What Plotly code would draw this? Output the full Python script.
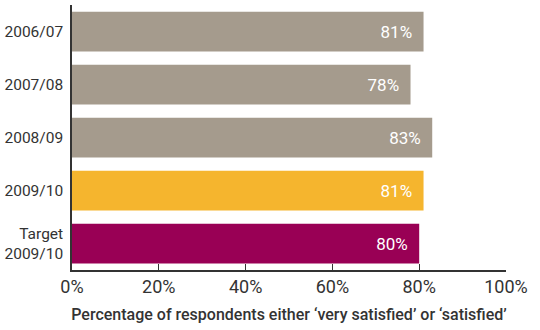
import plotly.graph_objects as go

categories = ["2006/07", "2007/08", "2008/09", "2009/10", "Target<br>2009/10"]
values = [81, 78, 83, 81, 80]
colors = ["#A59B8D", "#A59B8D", "#A59B8D", "#F5B52E", "#990055"]
labels = [f"{v}%\u00a0\u00a0" for v in values]
tick_vals = [0, 20, 40, 60, 80, 100]
tick_text = ["0%", "20%", "40%", "60%", "80%", "100%"]

font_fam = "Roboto, Liberation Sans, Arial, sans-serif"

fig = go.Figure(go.Bar(
    y=categories, x=values, orientation="h",
    marker=dict(color=colors, line=dict(width=0)),
    text=labels, textposition="inside", insidetextanchor="end",
    textfont=dict(color="white", size=17, family=font_fam),
    cliponaxis=False,
))

fig.update_layout(
    width=540, height=330,
    margin=dict(l=72, r=34, t=5, b=60),
    plot_bgcolor="white", paper_bgcolor="white",
    bargap=0.25,
    showlegend=False,
    font=dict(family=font_fam, color="#333333", size=17),
    uniformtext=dict(minsize=10, mode="show"),
)
fig.update_xaxes(
    range=[0, 100], tickvals=tick_vals, ticktext=tick_text,
    showgrid=False, zeroline=False, automargin=False,
    showline=True, linecolor="#333333", linewidth=1.5,
    ticks="inside", ticklen=6, tickcolor="#333333", tickwidth=1,
    tickfont=dict(size=18, color="#333333"),
    title=dict(text="Percentage of respondents either ‘very satisfied’ or ‘satisfied’",
               font=dict(size=16, color="#333333", weight=500), standoff=12),
)
fig.update_yaxes(
    autorange="reversed", showgrid=False, zeroline=False, automargin=False,
    showline=True, linecolor="#333333", linewidth=1.5,
    ticks="", tickfont=dict(size=15.5, color="#333333"), ticklabelstandoff=4,
)

fig.write_html("out.html")
